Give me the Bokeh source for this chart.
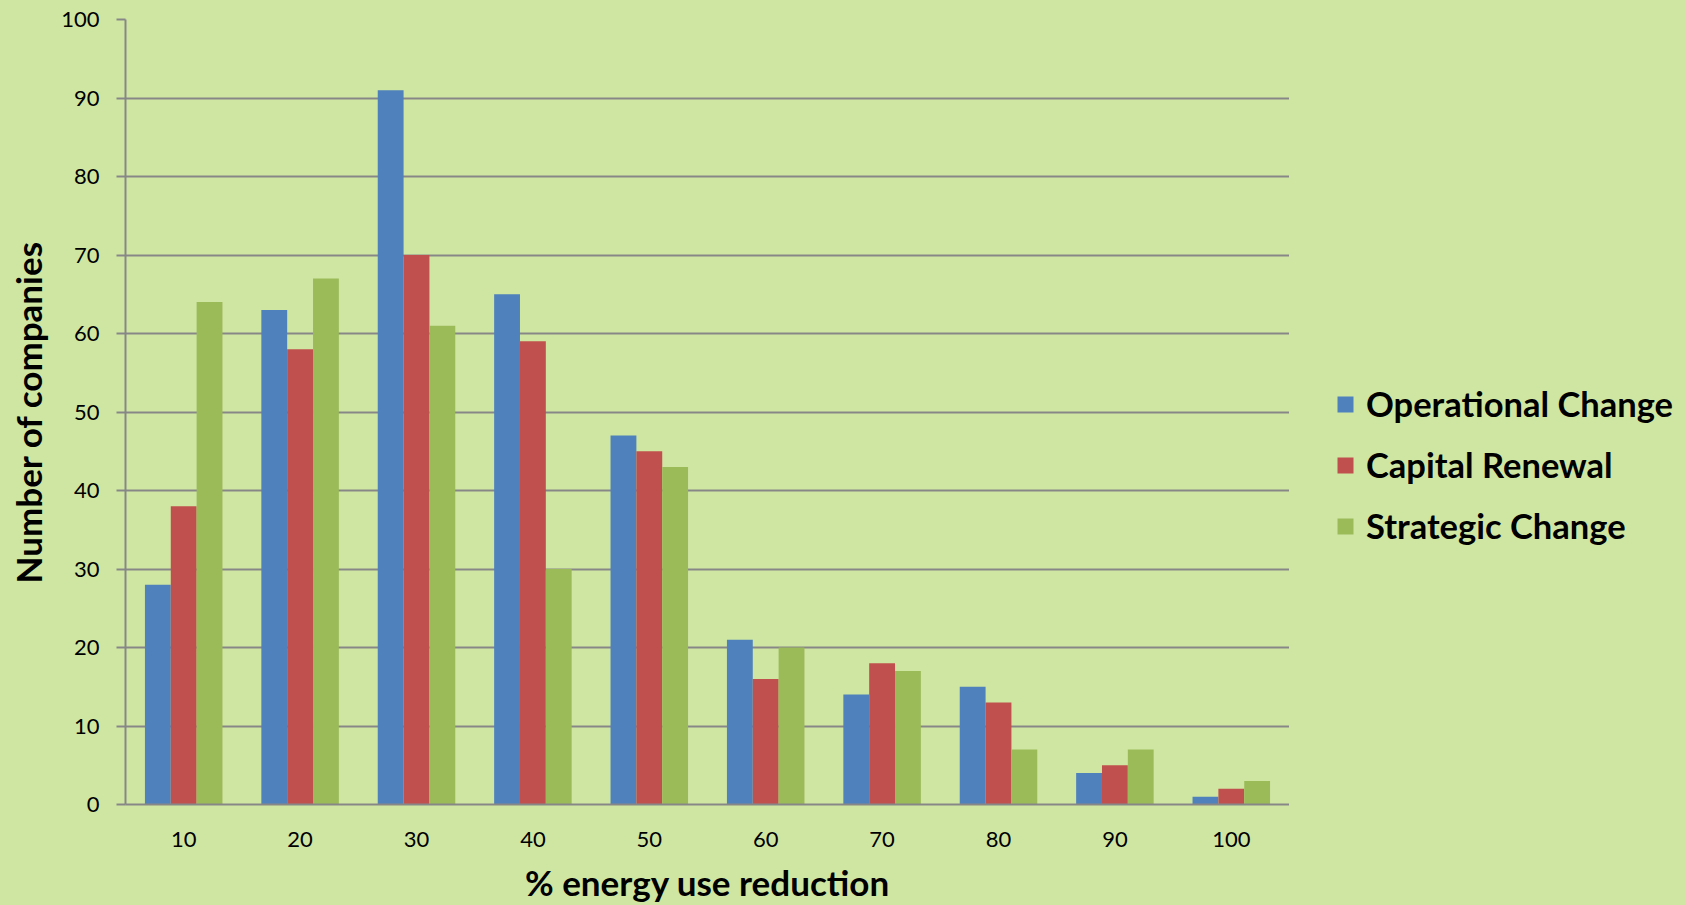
from bokeh.plotting import figure
from bokeh.layouts import row
from bokeh.models import Range1d, FactorRange, Legend, LegendItem, SingleIntervalTicker
from bokeh.transform import dodge
from bokeh.models import ColumnDataSource
from bokeh.embed import file_html
from bokeh.resources import INLINE

# % energy use reduction bins
reductions = ["10", "20", "30", "40", "50", "60", "70", "80", "90", "100"]

# Number of companies per bin, by type of change
operational_change = [28, 63, 91, 65, 47, 21, 14, 15, 4, 1]
capital_renewal = [38, 58, 70, 59, 45, 16, 18, 13, 5, 2]
strategic_change = [64, 67, 61, 30, 43, 20, 17, 7, 7, 3]

series_names = ["Operational Change", "Capital Renewal", "Strategic Change"]
series_colors = ["#4f81bd", "#c0504d", "#9bbb59"]

FONT = "Lato"
BG = "#cfe6a3"
GRID = "#878787"

source = ColumnDataSource(dict(
    cat=reductions,
    op=operational_change,
    cap=capital_renewal,
    strat=strategic_change,
))

# ---- main chart -------------------------------------------------------
p = figure(
    width=1289, height=905,
    x_range=FactorRange(*reductions),
    y_range=Range1d(0, 100),
    output_backend="svg",
    toolbar_location=None,
    min_border_left=125, min_border_right=0,
    min_border_top=19, min_border_bottom=101,
    styles={"background-color": BG},
)
p.background_fill_color = BG
p.border_fill_color = BG
p.outline_line_color = None

bar_w = 0.222
for field, off, color in zip(["op", "cap", "strat"], [-bar_w, 0, bar_w], series_colors):
    p.vbar(x=dodge("cat", off, range=p.x_range), top=field, width=bar_w,
           source=source, fill_color=color, line_color=None)

# grid
p.xgrid.grid_line_color = None
p.ygrid.grid_line_color = GRID
p.ygrid.grid_line_width = 2

# y axis
p.yaxis.ticker = SingleIntervalTicker(interval=10)
p.yaxis.axis_line_color = GRID
p.yaxis.axis_line_width = 2
p.yaxis.major_tick_line_color = GRID
p.yaxis.major_tick_line_width = 2
p.yaxis.major_tick_out = 9
p.yaxis.major_tick_in = 0
p.yaxis.minor_tick_line_color = None
p.yaxis.major_label_text_font = FONT
p.yaxis.major_label_text_font_size = "22px"
p.yaxis.major_label_text_color = "black"
p.yaxis.major_label_standoff = 17
p.yaxis.axis_label = "Number of companies"
p.yaxis.axis_label_text_font = FONT
p.yaxis.axis_label_text_font_size = "35px"
p.yaxis.axis_label_text_font_style = "bold"
p.yaxis.axis_label_text_color = "black"
p.yaxis.axis_label_standoff = 9

# x axis
p.xaxis.axis_line_color = GRID
p.xaxis.axis_line_width = 2
p.xaxis.major_tick_line_color = None
p.xaxis.minor_tick_line_color = None
p.xaxis.major_label_text_font = FONT
p.xaxis.major_label_text_font_size = "22px"
p.xaxis.major_label_text_color = "black"
p.xaxis.major_label_standoff = 21
p.xaxis.axis_label = "% energy use reduction"
p.xaxis.axis_label_text_font = FONT
p.xaxis.axis_label_text_font_size = "35px"
p.xaxis.axis_label_text_font_style = "bold"
p.xaxis.axis_label_text_color = "black"
p.xaxis.axis_label_standoff = 11

# ---- legend panel -------------------------------------------------------
# A bare side panel (pixel units) that only carries the series legend.
# Its frame lines up with the main chart's frame inside the row.
side = figure(
    width=397, height=905,
    x_range=Range1d(0, 397), y_range=Range1d(0, 785),
    output_backend="svg",
    toolbar_location=None,
    min_border=0,
    styles={"background-color": BG},
)
side.axis.visible = False
side.grid.visible = False
side.outline_line_color = None
side.background_fill_color = BG
side.border_fill_color = BG

# zero-height swatch carriers, one per series, used only for the legend glyphs
legend_marks = [
    side.vbar(x=[0], bottom=[0], top=[0], width=1, fill_color=color, line_color=None)
    for color in series_colors
]

legend = Legend(
    items=[LegendItem(label=n, renderers=[r]) for n, r in zip(series_names, legend_marks)],
    location=(46, 258),
    orientation="vertical",
    background_fill_alpha=0,
    border_line_color=None,
    padding=0, margin=0,
    glyph_width=20, glyph_height=20,
    label_standoff=11,
    label_height=40,
    spacing=20,
    label_text_font=FONT,
    label_text_font_size="34.5px",
    label_text_font_style="bold",
    label_text_color="black",
)
side.add_layout(legend, "center")

layout = row(p, side, spacing=0, styles={"background-color": BG})

open("out.html", "w").write(file_html(layout, INLINE))
